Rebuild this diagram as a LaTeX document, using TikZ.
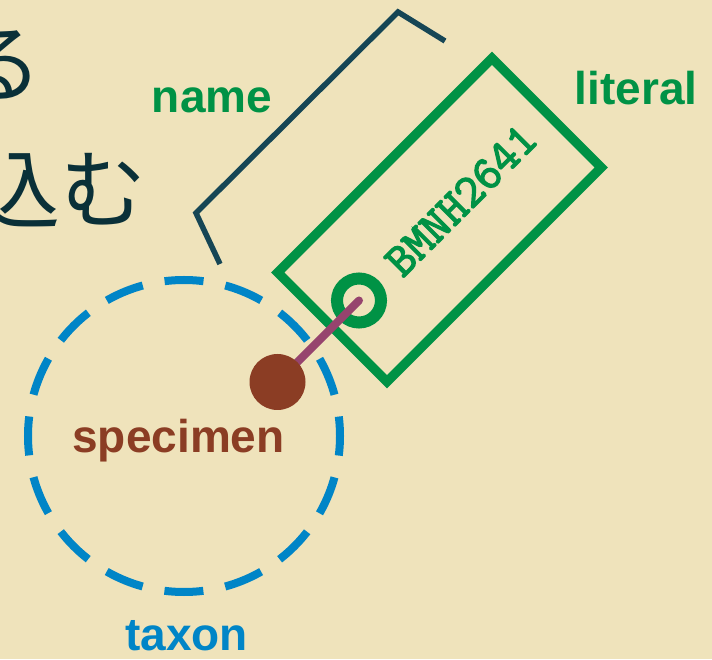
\documentclass[tikz,border=0pt]{standalone}
\usepackage{fontspec}
\usepackage{xcolor}
\newfontfamily\wordfamily{Liberation Sans}
\newfontfamily\codefamily{Latin Modern Mono}[FakeBold=3]
\newfontfamily\jpfamily{Noto Sans CJK JP}
\definecolor{paper}{RGB}{239,227,187}
\definecolor{taggreen}{RGB}{0,146,69}
\definecolor{taxonblue}{RGB}{0,133,199}
\definecolor{specimenbrown}{RGB}{139,61,36}
\definecolor{pinpurple}{RGB}{150,68,110}
\definecolor{bracketteal}{RGB}{22,70,85}
\definecolor{jpink}{RGB}{10,48,56}
\newcommand*{\wordfont}{\wordfamily\bfseries\fontsize{46}{50}\selectfont}
\newcommand*{\codefont}{\codefamily\fontsize{47}{50}\selectfont}
\newcommand*{\jpfont}{\jpfamily\fontsize{86}{100}\selectfont}

\begin{document}
\begin{tikzpicture}[x=1pt, y=1pt,
    wordlabel/.style={inner sep=0pt, anchor=base, font=\wordfont},
    ring/.style={circle, draw=taxonblue, line width=8pt, minimum size=312pt,
      inner sep=0pt, dash pattern=on 39pt off 22.26pt, dash phase=19.5pt},
    tagbox/.style={rectangle, draw=taggreen, line width=9.5pt, rotate=45,
      minimum width=303pt, minimum height=154.5pt, inner sep=0pt},
    taghole/.style={circle, draw=taggreen, line width=12pt, minimum size=44pt,
      inner sep=0pt},
    pinline/.style={draw=pinpurple, line width=8pt, line cap=round},
    pinhead/.style={circle, fill=specimenbrown, minimum size=56pt, inner sep=0pt},
    bracketline/.style={draw=bracketteal, line width=5.5pt}]
  \useasboundingbox (0,0) rectangle (712,659);
  \clip (0,0) rectangle (712,659);
  \fill [paper] (0,0) rectangle (712,659);

  % cut off slide text
  {\tikzstyle{every node}=[inner sep=0pt, anchor=base east, font=\jpfont, text=jpink]
    \node (jpone) at (43,563) {る};
    \node (jptwo) at (147,437) {込む};
  }

  % taxon and tag
  \node [ring] (taxon) at (184,223) {};
  \node [tagbox] (tag) at (439.5,439) {};
  \node [taghole] (hole) at (359,358.5) {};
  \node [rotate=45, inner sep=0pt, font=\codefont, text=taggreen] (code)
    at (461,459) {BMNH2641};

  \draw [bracketline] (220,395) -- (196,446) -- (398,647) -- (445,618);

  % specimen pinned to the tag
  \coordinate (pin) at (277.5,277);
  \draw [pinline] (pin) -- (hole.center);
  \node [pinhead] (specimendot) at (pin) {};

  \node [wordlabel, text=taggreen] (name) at (212,546) {name};
  \node [wordlabel, text=taggreen] (literal) at (636,554) {literal};
  \node [wordlabel, text=specimenbrown] (specimen) at (178.5,206) {specimen};
  \node [wordlabel, text=taxonblue] (taxonword) at (186.5,9) {taxon};
\end{tikzpicture}
\end{document}
